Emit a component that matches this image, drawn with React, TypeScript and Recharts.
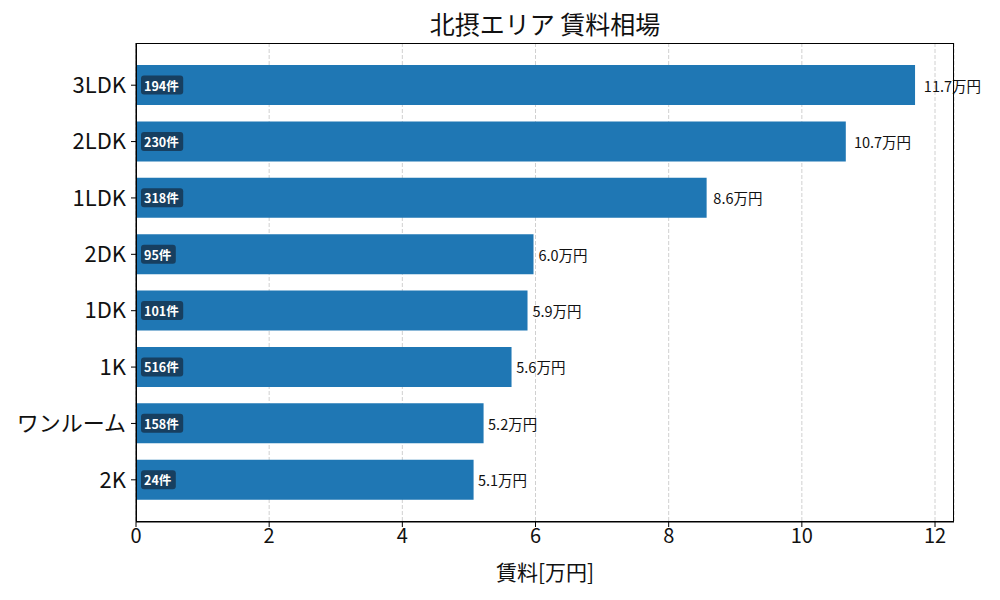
import React from 'react';
import { BarChart, Bar, XAxis, YAxis, CartesianGrid, LabelList } from 'recharts';

const layouts = ['3LDK', '2LDK', '1LDK', '2DK', '1DK', '1K', 'ワンルーム', '2K'];
const rents = [11.7, 10.66, 8.57, 5.97, 5.88, 5.64, 5.22, 5.07];
const counts = [194, 230, 318, 95, 101, 516, 158, 24];
const xTicks = [0, 2, 4, 6, 8, 10, 12];

const FONT = '"Noto Sans CJK JP", "Noto Sans", sans-serif';
const BAR_COLOR = '#1f77b4';

const data = layouts.map((name, i) => ({ name, rent: rents[i], count: counts[i] }));

const CountBadge = (props: any) => {
  const { x, y, height, value } = props;
  const label = `${value}件`;
  const digits = String(value).length;
  const w = digits * 7.4 + 13 + 7;
  const h = 19;
  const cy = y + height / 2;
  return (
    <g>
      <rect x={x + 5} y={cy - h / 2} width={w} height={h} rx={3} fill="#173f60" />
      <text
        x={x + 8}
        y={cy}
        dominantBaseline="central"
        fill="#fff"
        fontSize={12.5}
        fontWeight={700}
        fontFamily={FONT}
      >
        {label}
      </text>
    </g>
  );
};

const RentLabel = (props: any) => {
  const { x, y, width, height, value } = props;
  return (
    <text
      x={x + width * 1.01 + 1}
      y={y + height / 2}
      dominantBaseline="central"
      fill="#111"
      fontSize={14.5}
      fontFamily={FONT}
    >
      {`${Number(value).toFixed(1)}万円`}
    </text>
  );
};

// plot frame (matplotlib-style box around the axes)
const FRAME = { left: 136, top: 43, width: 818, height: 479 };

export default function App() {
  return (
    <div style={{ position: 'absolute', left: 0, top: 0, width: 1000, height: 600, background: '#fff', fontFamily: FONT }}>
      <div
        style={{
          position: 'absolute',
          left: 136,
          width: 818,
          top: 5,
          textAlign: 'center',
          fontSize: 25,
          color: '#111',
        }}
      >
        北摂エリア 賃料相場
      </div>
      <BarChart
        width={1000}
        height={600}
        data={data}
        layout="vertical"
        margin={{ top: 43, right: 46, bottom: 0, left: 0 }}
        barSize={40}
      >
        <CartesianGrid horizontal={false} vertical strokeDasharray="4 2" stroke="#d0d0d0" />
        <XAxis
          type="number"
          domain={[0, 12.285]}
          ticks={xTicks}
          allowDataOverflow
          tick={{ fill: '#111', fontSize: 20, fontFamily: FONT }}
          tickSize={5}
          axisLine={{ stroke: '#000' }}
          tickLine={{ stroke: '#000' }}
          height={78}
          label={{ value: '賃料[万円]', position: 'insideBottom', offset: 20, fill: '#111', fontSize: 21, fontFamily: FONT }}
        />
        <YAxis
          type="category"
          dataKey="name"
          width={136}
          padding={{ top: 14, bottom: 14 }}
          tick={{ fill: '#111', fontSize: 22, fontFamily: FONT }}
          tickSize={5}
          tickMargin={5}
          axisLine={{ stroke: '#000' }}
          tickLine={{ stroke: '#000' }}
        />
        <Bar dataKey="rent" fill={BAR_COLOR} isAnimationActive={false}>
          <LabelList dataKey="count" content={CountBadge} />
          <LabelList dataKey="rent" content={RentLabel} />
        </Bar>
      </BarChart>
      <div
        style={{
          position: 'absolute',
          left: FRAME.left,
          top: FRAME.top,
          width: FRAME.width,
          height: FRAME.height,
          border: '1px solid #000',
          boxSizing: 'border-box',
          pointerEvents: 'none',
        }}
      />
    </div>
  );
}
